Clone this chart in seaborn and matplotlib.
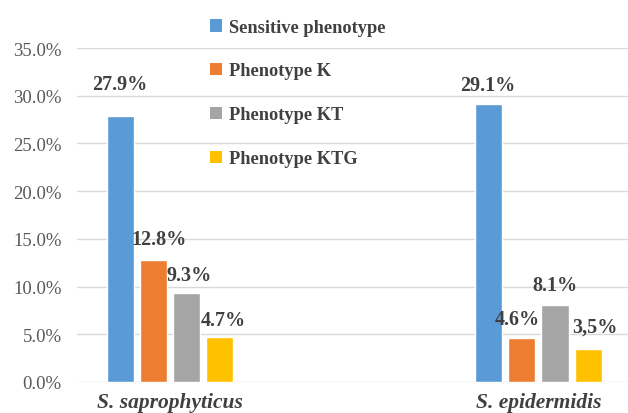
import matplotlib
matplotlib.use("Agg")
import matplotlib.pyplot as plt
import seaborn as sns
import pandas as pd
from matplotlib.patches import Patch
from matplotlib.ticker import FuncFormatter

species = ["S. saprophyticus", "S. epidermidis"]
phenotypes = ["Sensitive phenotype", "Phenotype K", "Phenotype KT", "Phenotype KTG"]
values_sapro = [27.9, 12.8, 9.3, 4.7]
values_epi = [29.1, 4.6, 8.1, 3.5]
label_texts = ["27.9%", "12.8%", "9.3%", "4.7%", "29.1%", "4.6%", "8.1%", "3,5%"]
colors = ["#5B9BD5", "#ED7D31", "#A5A5A5", "#FFC000"]
yticks = [0, 5, 10, 15, 20, 25, 30, 35]
# label offsets in points (dx, dy) relative to bar top center
label_offsets = [(0, 23), (4, 15), (2, 13), (3, 12), (-1, 14), (-3, 14), (0, 14), (5, 16)]

rows = []
for sp, vals in zip(species, [values_sapro, values_epi]):
    for ph, v in zip(phenotypes, vals):
        rows.append({"species": sp, "phenotype": ph, "value": v})
df = pd.DataFrame(rows)

sns.set_theme(style="white")
plt.rcParams["font.family"] = ["Liberation Serif", "DejaVu Serif"]

fig = plt.figure(figsize=(6.28, 4.14), dpi=100)
ax = fig.add_axes([77 / 628, 31 / 414, (628 - 77) / 628, (383 - 49) / 414])

sns.barplot(data=df, x="species", y="value", hue="phenotype", hue_order=phenotypes,
            order=species, palette=colors, width=0.36, gap=0.18, saturation=1,
            ax=ax, legend=False)

ax.set_xlim(-0.252, 1.243)
ax.set_ylim(0, 35)
ax.set_yticks(yticks)
ax.yaxis.set_major_formatter(FuncFormatter(lambda v, p: f"{v:.1f}%"))
ax.grid(axis="y", color="#D9D9D9", linewidth=1)
ax.set_axisbelow(True)
for s in ["top", "right", "left", "bottom"]:
    ax.spines[s].set_visible(False)
ax.tick_params(axis="y", length=0, pad=11, labelsize=13.5, labelcolor="#595959")
ax.tick_params(axis="x", length=0, pad=7, labelsize=15.5, labelcolor="#404040")
for t in ax.get_xticklabels():
    t.set_fontstyle("italic")
    t.set_fontweight("bold")
ax.set_xlabel("")
ax.set_ylabel("")

# data labels: order bars by species then phenotype
bars = []
for ci, cont in enumerate(ax.containers):
    for si, bar in enumerate(cont):
        bars.append((si, ci, bar))
bars.sort(key=lambda t: (t[0], t[1]))
for (si, ci, bar), txt, (dx, dy) in zip(bars, label_texts, label_offsets):
    x = bar.get_x() + bar.get_width() / 2
    y = bar.get_height()
    ax.annotate(txt, (x, y), xytext=(dx, dy), textcoords="offset points",
                ha="center", va="center", fontsize=14.5, fontweight="bold", color="#404040")

handles = [Patch(facecolor=c, edgecolor="none") for c in colors]
leg = fig.legend(handles, phenotypes, loc="upper left", bbox_to_anchor=(193 / 628, 1 - 3 / 414),
                 frameon=False, handlelength=0.7, handleheight=0.7, handletextpad=0.35,
                 labelspacing=1.47, prop={"weight": "bold", "size": 13.2})
for t in leg.get_texts():
    t.set_color("#404040")

fig.savefig("out.png", dpi=100)
